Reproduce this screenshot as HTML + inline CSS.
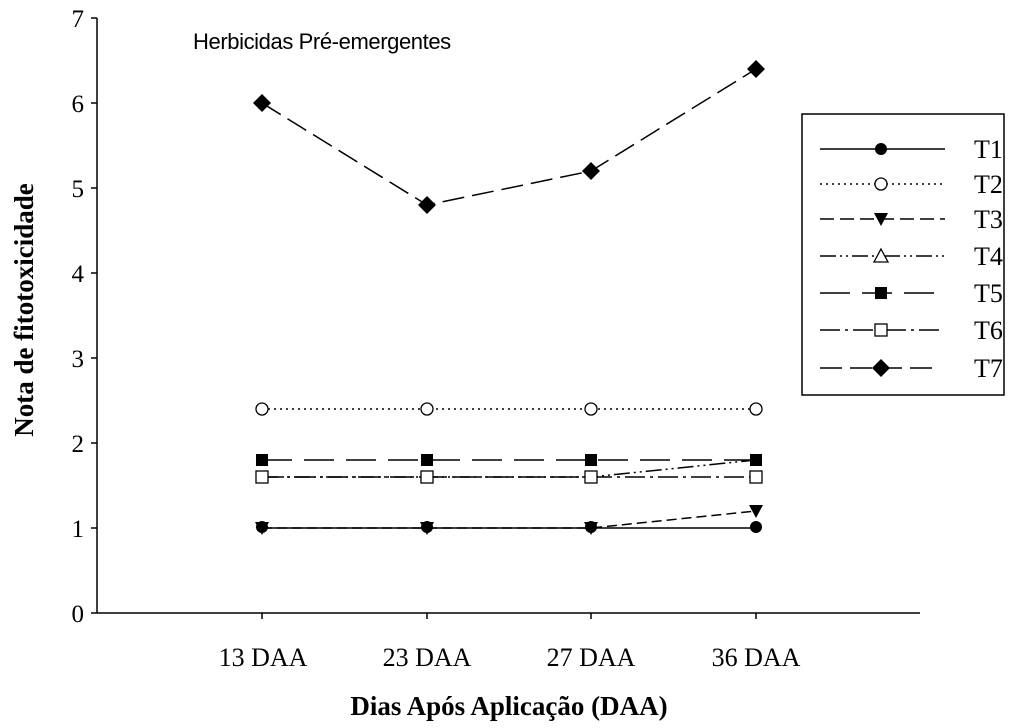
<!DOCTYPE html>
<html><head><meta charset="utf-8"><style>body{margin:0;background:#fff}svg{display:block}</style></head><body>
<svg width="1024" height="728" viewBox="0 0 1024 728" font-family="Liberation Serif, serif">
<rect width="1024" height="728" fill="#fff"/>
<g stroke="#000" stroke-width="1.5" fill="none">
<line x1="97" y1="18" x2="97" y2="613"/>
<line x1="97" y1="613" x2="920" y2="613"/>
<line x1="91" y1="18" x2="97" y2="18"/><line x1="91" y1="103" x2="97" y2="103"/><line x1="91" y1="188" x2="97" y2="188"/><line x1="91" y1="273" x2="97" y2="273"/><line x1="91" y1="358" x2="97" y2="358"/><line x1="91" y1="443" x2="97" y2="443"/><line x1="91" y1="528" x2="97" y2="528"/><line x1="91" y1="613" x2="97" y2="613"/>
<line x1="262" y1="613" x2="262" y2="619"/><line x1="427" y1="613" x2="427" y2="619"/><line x1="591" y1="613" x2="591" y2="619"/><line x1="756" y1="613" x2="756" y2="619"/>
</g>
<g font-size="25" text-anchor="end">
<text x="84" y="27">7</text><text x="84" y="112">6</text><text x="84" y="197">5</text><text x="84" y="282">4</text><text x="84" y="367">3</text><text x="84" y="452">2</text><text x="84" y="537">1</text><text x="84" y="622">0</text>
</g>
<g font-size="26" text-anchor="middle">
<text x="263" y="666">13 DAA</text><text x="427" y="666">23 DAA</text><text x="591" y="666">27 DAA</text><text x="756" y="666">36 DAA</text>
</g>
<text x="509" y="715" font-size="27" font-weight="bold" text-anchor="middle">Dias Após Aplicação (DAA)</text>
<text transform="translate(33,310) rotate(-90)" font-size="27" font-weight="bold" text-anchor="middle">Nota de fitotoxicidade</text>
<text x="193" y="49" font-size="22" font-family="Liberation Sans, sans-serif" letter-spacing="-0.4">Herbicidas Pré-emergentes</text>
<g stroke="#000" stroke-width="1.5" fill="none">
<polyline points="262,103 427,205 591,171 756,69" stroke-dasharray="22,8"/>
<polyline points="262,409 427,409 591,409 756,409" stroke-dasharray="2,4"/>
<polyline points="262,460 427,460 591,460 756,460" stroke-dasharray="30,12"/>
<polyline points="262,477 427,477 591,477 756,460" stroke-dasharray="16,4,2,4,2,4"/>
<polyline points="262,477 427,477 591,477 756,477" stroke-dasharray="20,5,3,5"/>
<polyline points="262,528 427,528 591,528 756,528"/>
<polyline points="262,528 427,528 591,528 756,511" stroke-dasharray="10,5"/>
</g>
<g>
<g fill="#000"><path d="M262,94 L271,103 262,112 253,103Z M427,196 L436,205 427,214 418,205Z M591,162 L600,171 591,180 582,171Z M756,60 L765,69 756,78 747,69Z"/></g>
<g fill="#fff" stroke="#000" stroke-width="1.3"><circle cx="262" cy="409" r="6"/><circle cx="427" cy="409" r="6"/><circle cx="591" cy="409" r="6"/><circle cx="756" cy="409" r="6"/></g>
<g fill="#000"><rect x="256" y="454" width="12" height="12"/><rect x="421" y="454" width="12" height="12"/><rect x="585" y="454" width="12" height="12"/><rect x="750" y="454" width="12" height="12"/></g>
<g fill="#fff" stroke="#000" stroke-width="1.3"><rect x="256" y="471" width="12" height="12"/><rect x="421" y="471" width="12" height="12"/><rect x="585" y="471" width="12" height="12"/><rect x="750" y="471" width="12" height="12"/></g>
<g fill="#000"><path d="M255,522 L269,522 262,535Z M420,522 L434,522 427,535Z M584,522 L598,522 591,535Z M749,505 L763,505 756,518Z"/>
<circle cx="262" cy="527" r="6"/><circle cx="427" cy="527" r="6"/><circle cx="591" cy="527" r="6"/><circle cx="756" cy="527" r="6"/></g>
</g>
<rect x="802" y="114" width="202" height="281" fill="#fff" stroke="#000" stroke-width="1.5"/>
<g stroke="#000" stroke-width="1.5" fill="none">
<line x1="820" y1="149" x2="945" y2="149"/>
<line x1="820" y1="184" x2="945" y2="184" stroke-dasharray="2,4"/>
<line x1="820" y1="219" x2="945" y2="219" stroke-dasharray="14,6"/>
<line x1="820" y1="256" x2="945" y2="256" stroke-dasharray="16,4,2,4,2,4"/>
<line x1="820" y1="293" x2="935" y2="293" stroke-dasharray="30,12"/>
<line x1="820" y1="330" x2="940" y2="330" stroke-dasharray="20,5,3,5"/>
<line x1="820" y1="368" x2="938" y2="368" stroke-dasharray="22,8"/>
</g>
<circle cx="881" cy="149" r="6" fill="#000"/>
<circle cx="881" cy="184" r="6" fill="#fff" stroke="#000" stroke-width="1.3"/>
<path d="M874,213 L888,213 881,226Z" fill="#000"/>
<path d="M881,249 L888,262 874,262Z" fill="#fff" stroke="#000" stroke-width="1.3"/>
<rect x="875" y="287" width="12" height="12" fill="#000"/>
<rect x="875" y="324" width="12" height="12" fill="#fff" stroke="#000" stroke-width="1.3"/>
<path d="M881,359 L890,368 881,377 872,368Z" fill="#000"/>
<g font-size="26">
<text x="974" y="158">T1</text><text x="974" y="193">T2</text><text x="974" y="228">T3</text><text x="974" y="265">T4</text><text x="974" y="302">T5</text><text x="974" y="339">T6</text><text x="974" y="377">T7</text>
</g>
</svg>
</body></html>
